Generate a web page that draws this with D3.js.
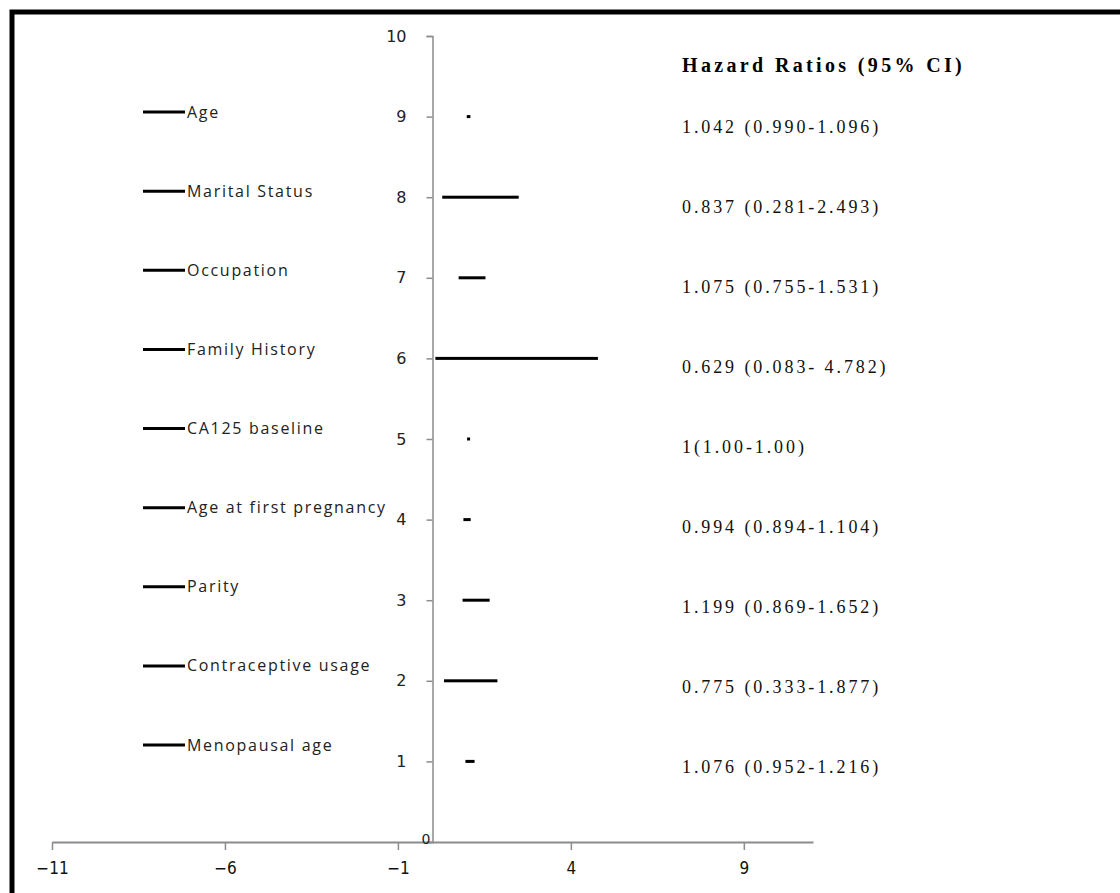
<!DOCTYPE html>
<html>
<head>
<meta charset="utf-8">
<script src="https://cdn.jsdelivr.net/npm/d3@7"></script>
<style>
  body { margin: 0; background: #fff; }
  svg { display: block; }
</style>
</head>
<body>
<script>
// chart data
const factors = ['Age', 'Marital Status', 'Occupation', 'Family History', 'CA125 baseline',
  'Age at first pregnancy', 'Parity', 'Contraceptive usage', 'Menopausal age']
const rowPos = [9, 8, 7, 6, 5, 4, 3, 2, 1]
const lower = [0.990, 0.281, 0.755, 0.083, 1.00, 0.894, 0.869, 0.333, 0.952]
const upper = [1.096, 2.493, 1.531, 4.782, 1.00, 1.104, 1.652, 1.877, 1.216]
const hrLabels = ['1.042 (0.990-1.096)', '0.837 (0.281-2.493)', '1.075 (0.755-1.531)',
  '0.629 (0.083- 4.782)', '1(1.00-1.00)', '0.994 (0.894-1.104)', '1.199 (0.869-1.652)',
  '0.775 (0.333-1.877)', '1.076 (0.952-1.216)']
const xTicks = [-11, -6, -1, 4, 9]
const yTicks = [0, 1, 2, 3, 4, 5, 6, 7, 8, 9, 10]
const title = 'Hazard Ratios (95% CI)'

const width = 1120
const height = 893

const svg = d3.select('body')
  .append('svg')
  .attr('width', width)
  .attr('height', height)

// thick frame on top and left
svg.append('path')
  .attr('d', 'M12,893 V12 H1120')
  .attr('fill', 'none')
  .attr('stroke', '#000')
  .attr('stroke-width', 5)

const x = d3.scaleLinear().domain([-11, 11]).range([52, 813])
const y = d3.scaleLinear().domain([0, 10]).range([842, 36])

// x axis
const xAxis = svg.append('g')
  .attr('transform', `translate(0,${y(0)})`)
  .call(d3.axisBottom(x).tickValues(xTicks).tickSize(8).tickPadding(12).tickSizeOuter(0))
xAxis.select('.domain').attr('stroke', '#8c8c8c').attr('stroke-width', 2)
xAxis.selectAll('.tick line').attr('stroke', '#8c8c8c').attr('stroke-width', 1.5)
xAxis.selectAll('.tick text')
  .attr('fill', '#111')
  .attr('font-family', '"Liberation Sans Narrow", "DejaVu Sans Condensed", "Liberation Sans", sans-serif')
  .attr('font-size', 17)

// y axis crossing at x = 0
const yAxis = svg.append('g')
  .attr('transform', `translate(${x(0)},0)`)
  .call(d3.axisLeft(y).tickValues(yTicks).tickSize(6).tickPadding(20).tickSizeOuter(6))
yAxis.select('.domain').attr('stroke', '#8c8c8c').attr('stroke-width', 1.5)
yAxis.selectAll('.tick line').attr('stroke', '#8c8c8c').attr('stroke-width', 1.5)
yAxis.selectAll('.tick text')
  .attr('fill', '#222')
  .attr('font-family', '"DejaVu Sans", sans-serif')
  .attr('font-size', 16)
yAxis.selectAll('.tick').filter(d => d === 0).select('text')
  .attr('x', -2).attr('dy', '0.1em')
  .attr('font-size', 14)

// confidence interval bars
svg.append('g')
  .selectAll('rect')
  .data(factors)
  .enter()
  .append('rect')
  .attr('x', (d, i) => x(lower[i]))
  .attr('y', (d, i) => y(rowPos[i]) - 1.5)
  .attr('width', (d, i) => Math.max(3, x(upper[i]) - x(lower[i])))
  .attr('height', 3)
  .attr('fill', '#000')

// legend on the left
const legY = d3.scaleLinear().domain([0, factors.length - 1]).range([112, 745])
const leg = svg.append('g')
  .selectAll('g')
  .data(factors)
  .enter()
  .append('g')
  .attr('transform', (d, i) => `translate(143,${legY(i)})`)
leg.append('line')
  .attr('x1', 0).attr('x2', 42)
  .attr('stroke', '#000')
  .attr('stroke-width', 3)
leg.append('text')
  .attr('x', 44)
  .attr('dy', '0.35em')
  .style('font-family', '"Open Sans", sans-serif')
  .style('font-size', '16px')
  .style('letter-spacing', '1.7px')
  .attr('fill', '#222')
  .text(d => d)

// hazard ratio texts
svg.append('text')
  .attr('x', 682)
  .attr('y', 65)
  .attr('dy', '0.35em')
  .style('font-family', '"Liberation Serif", serif')
  .style('font-size', '20px')
  .style('font-weight', 'bold')
  .style('letter-spacing', '3.35px')
  .text(title)

const hrY = d3.scaleLinear().domain([0, hrLabels.length - 1]).range([127, 767])
svg.append('g')
  .selectAll('text')
  .data(hrLabels)
  .enter()
  .append('text')
  .attr('x', 682)
  .attr('y', (d, i) => hrY(i))
  .attr('dy', '0.35em')
  .style('font-family', '"Liberation Serif", serif')
  .style('font-size', '18px')
  .style('letter-spacing', '2.9px')
  .attr('fill', '#111')
  .text(d => d)
</script>
</body>
</html>
